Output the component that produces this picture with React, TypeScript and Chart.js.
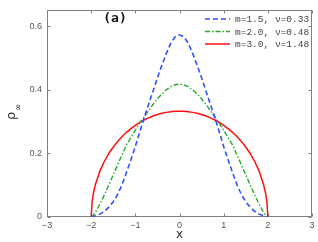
import React, { useEffect, useRef } from 'react';
import { Chart, registerables } from 'chart.js';

Chart.register(...registerables);

const xValues = [-2, -1.98, -1.95, -1.9, -1.8, -1.7, -1.6, -1.5, -1.4, -1.3, -1.2, -1.1, -1, -0.9, -0.8, -0.7, -0.6, -0.5, -0.4, -0.3, -0.2, -0.1, 0, 0.1, 0.2, 0.3, 0.4, 0.5, 0.6, 0.7, 0.8, 0.9, 1, 1.1, 1.2, 1.3, 1.4, 1.5, 1.6, 1.7, 1.8, 1.9, 1.95, 1.98, 2];

const blueValues = [0, 0.001, 0.002, 0.004, 0.009, 0.018, 0.031, 0.048, 0.071, 0.102, 0.140, 0.180, 0.222, 0.268, 0.312, 0.354, 0.396, 0.438, 0.477, 0.514, 0.546, 0.567, 0.573, 0.567, 0.546, 0.514, 0.477, 0.438, 0.396, 0.354, 0.312, 0.268, 0.222, 0.180, 0.140, 0.102, 0.071, 0.048, 0.031, 0.018, 0.009, 0.004, 0.002, 0.001, 0];

const greenValues = [0, 0.002, 0.006, 0.015, 0.041, 0.070, 0.101, 0.133, 0.165, 0.196, 0.227, 0.250, 0.273, 0.296, 0.315, 0.335, 0.354, 0.372, 0.387, 0.400, 0.410, 0.416, 0.418, 0.416, 0.410, 0.400, 0.387, 0.372, 0.354, 0.335, 0.315, 0.296, 0.273, 0.250, 0.227, 0.196, 0.165, 0.133, 0.101, 0.070, 0.041, 0.015, 0.006, 0.002, 0];

const redValues = [0, 0.047, 0.074, 0.104, 0.1452, 0.1754, 0.1998, 0.2203, 0.2378, 0.2531, 0.2664, 0.2781, 0.2884, 0.2974, 0.3052, 0.3119, 0.3177, 0.3224, 0.3263, 0.3292, 0.3313, 0.3326, 0.333, 0.3326, 0.3313, 0.3292, 0.3263, 0.3224, 0.3177, 0.3119, 0.3052, 0.2974, 0.2884, 0.2781, 0.2664, 0.2531, 0.2378, 0.2203, 0.1998, 0.1754, 0.1452, 0.104, 0.074, 0.047, 0];

const seriesLabels = ['m=1.5, \u03bd=0.33', 'm=2.0, \u03bd=0.48', 'm=3.0, \u03bd=1.48'];
const xTickValues = [-3, -2, -1, 0, 1, 2, 3];
const xTickLabels = ['\u22123', '\u22122', '\u22121', '0', '1', '2', '3'];
const yTickValues = [0, 0.2, 0.4, 0.6];
const yTickLabels = ['0', '0.2', '0.4', '0.6'];
const panelTitle = '(a)';
const xAxisTitle = 'x';

const AXIS_COLOR = '#808080';

const decorPlugin = {
  id: 'decor',
  beforeDatasetsDraw(chart: any) {
    const { ctx, chartArea: a, scales } = chart;
    ctx.save();
    ctx.strokeStyle = AXIS_COLOR;
    ctx.lineWidth = 1;
    const l = Math.round(a.left) + 0.5;
    const r = Math.round(a.right) - 0.5;
    const t = Math.round(a.top) + 0.5;
    const b = Math.round(a.bottom) - 0.5;
    ctx.strokeRect(l, t, r - l, b - t);
    ctx.beginPath();
    xTickValues.forEach((v) => {
      const px = Math.round(scales.x.getPixelForValue(v)) + 0.5;
      ctx.moveTo(px, b);
      ctx.lineTo(px, b - 3);
      ctx.moveTo(px, t);
      ctx.lineTo(px, t + 3);
    });
    yTickValues.forEach((v) => {
      const py = Math.round(scales.y.getPixelForValue(v)) + 0.5;
      ctx.moveTo(l, py);
      ctx.lineTo(l + 3, py);
      ctx.moveTo(r, py);
      ctx.lineTo(r - 3, py);
    });
    ctx.stroke();
    ctx.restore();
  },
  afterDraw(chart: any) {
    const { ctx, chartArea: a } = chart;
    ctx.save();
    // legend
    const ds = chart.data.datasets;
    ctx.font = '9.5px "Liberation Mono"';
    ctx.textBaseline = 'middle';
    ctx.textAlign = 'left';
    ds.forEach((d: any, i: number) => {
      const y = 19 + i * 12.5;
      ctx.strokeStyle = d.borderColor;
      ctx.lineWidth = d.borderWidth;
      ctx.setLineDash(d.borderDash || []);
      ctx.beginPath();
      ctx.moveTo(205, y);
      ctx.lineTo(230, y);
      ctx.stroke();
      ctx.setLineDash([]);
      ctx.fillStyle = '#444';
      ctx.fillText(d.label, 235, y + 0.5);
    });
    // panel title
    ctx.font = 'bold 13px "DejaVu Sans Mono"';
    ctx.fillStyle = '#111';
    ctx.textAlign = 'center';
    ctx.fillText(panelTitle, 115, 18.5);
    // x axis title
    ctx.font = '12px "DejaVu Sans"';
    ctx.fillStyle = '#333';
    ctx.fillText(xAxisTitle, (a.left + a.right) / 2, 235);
    // y axis title: rho_infinity rotated
    ctx.translate(15, 120);
    ctx.rotate(-Math.PI / 2);
    ctx.textAlign = 'left';
    ctx.textBaseline = 'alphabetic';
    ctx.font = '13px "DejaVu Sans"';
    ctx.fillText('\u03c1', 0, 0);
    const w = ctx.measureText('\u03c1').width;
    ctx.font = '9px "DejaVu Sans"';
    ctx.fillText('\u221e', w + 0.5, 6);
    ctx.restore();
  },
};

export default function App() {
  const canvasRef = useRef<HTMLCanvasElement | null>(null);

  useEffect(() => {
    document.body.style.margin = '0';
    const canvas = canvasRef.current;
    if (!canvas) return;
    const mk = (ys: number[]) => xValues.map((x, i) => ({ x, y: ys[i] }));
    const chart = new Chart(canvas, {
      type: 'line',
      data: {
        datasets: [
          {
            label: seriesLabels[0],
            data: mk(blueValues),
            borderColor: '#3050ff',
            borderWidth: 1.6,
            borderDash: [5, 3],
            pointRadius: 0,
            fill: false,
            tension: 0,
          },
          {
            label: seriesLabels[1],
            data: mk(greenValues),
            borderColor: '#2aa82a',
            borderWidth: 1.4,
            borderDash: [5, 2, 1.5, 2],
            pointRadius: 0,
            fill: false,
            tension: 0,
          },
          {
            label: seriesLabels[2],
            data: mk(redValues),
            borderColor: '#ff1010',
            borderWidth: 1.5,
            pointRadius: 0,
            fill: false,
            tension: 0,
          },
        ],
      },
      options: {
        animation: false,
        responsive: false,
        maintainAspectRatio: false,
        devicePixelRatio: 1,
        layout: { padding: { top: 7, right: 6, left: 0, bottom: 0 } },
        plugins: {
          legend: { display: false },
          tooltip: { enabled: false },
          title: { display: false },
        },
        scales: {
          x: {
            type: 'linear',
            min: -3,
            max: 3,
            afterFit: (s: any) => {
              s.height = 25;
            },
            afterBuildTicks: (s: any) => {
              s.ticks = xTickValues.map((v) => ({ value: v }));
            },
            grid: { display: false, drawTicks: false },
            border: { display: false },
            ticks: {
              padding: 3,
              autoSkip: false,
              maxRotation: 0,
              color: '#555',
              font: { family: '"Liberation Sans"', size: 9 },
              callback: (v: any) => {
                const i = xTickValues.indexOf(Number(v));
                return i >= 0 ? xTickLabels[i] : '';
              },
            },
          },
          y: {
            type: 'linear',
            min: 0,
            max: 0.65,
            afterFit: (s: any) => {
              s.width = 47;
            },
            afterBuildTicks: (s: any) => {
              s.ticks = yTickValues.map((v) => ({ value: v }));
            },
            grid: { display: false, drawTicks: false },
            border: { display: false },
            ticks: {
              padding: 5,
              autoSkip: false,
              color: '#555',
              font: { family: '"Liberation Sans"', size: 9 },
              callback: (v: any) => {
                const i = yTickValues.findIndex((t) => Math.abs(t - Number(v)) < 1e-9);
                return i >= 0 ? yTickLabels[i] : '';
              },
            },
          },
        },
      },
      plugins: [decorPlugin],
    });
    return () => chart.destroy();
  }, []);

  return (
    <div style={{ width: 318, height: 242 }}>
      <canvas ref={canvasRef} width={318} height={242} style={{ display: 'block', width: 318, height: 242 }} />
    </div>
  );
}
